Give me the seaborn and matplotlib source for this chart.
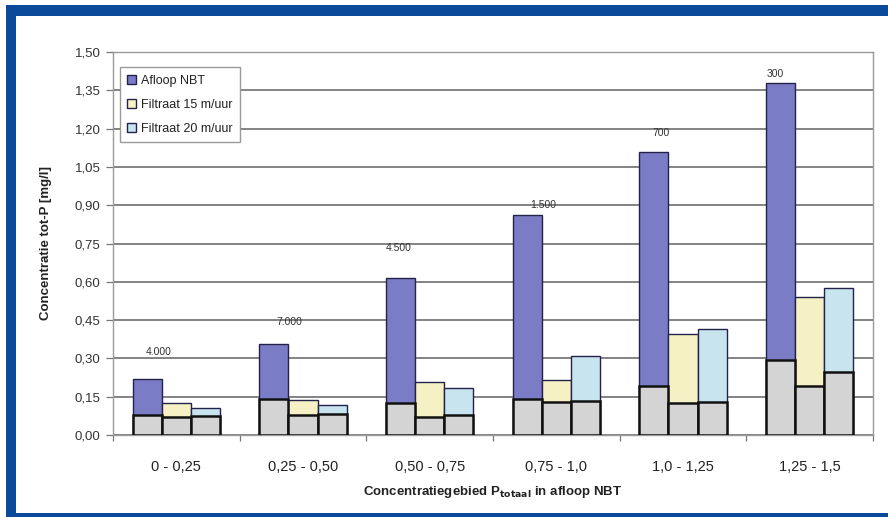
import matplotlib
matplotlib.use("Agg")
import matplotlib.pyplot as plt
from matplotlib.patches import Rectangle
from matplotlib.ticker import FixedLocator, FuncFormatter
import numpy as np
import pandas as pd
import seaborn as sns

# Concentratiegebieden (x-as)
categories = ['0 - 0,25', '0,25 - 0,50', '0,50 - 0,75', '0,75 - 1,0', '1,0 - 1,25', '1,25 - 1,5']
series = ['Afloop NBT', 'Filtraat 15 m/uur', 'Filtraat 20 m/uur']

# Totaal-P per reeks (hele staaf)
afloop_totaal = [0.22, 0.355, 0.615, 0.86, 1.11, 1.38]
filtraat15_totaal = [0.125, 0.137, 0.206, 0.215, 0.397, 0.542]
filtraat20_totaal = [0.107, 0.117, 0.183, 0.311, 0.414, 0.575]

# Opgelost deel (grijze onderkant van de staaf)
afloop_opgelost = [0.080, 0.140, 0.127, 0.142, 0.193, 0.293]
filtraat15_opgelost = [0.071, 0.080, 0.070, 0.129, 0.125, 0.193]
filtraat20_opgelost = [0.076, 0.083, 0.080, 0.133, 0.129, 0.246]

# Aantal metingen per concentratiegebied
n_metingen = ['4.000', '7.000', '4.500', '1.500', '700', '300']

y_ticks = [0.00, 0.15, 0.30, 0.45, 0.60, 0.75, 0.90, 1.05, 1.20, 1.35, 1.50]

rows = []
for s, tot, opg in zip(series,
                       [afloop_totaal, filtraat15_totaal, filtraat20_totaal],
                       [afloop_opgelost, filtraat15_opgelost, filtraat20_opgelost]):
    for c, t, o in zip(categories, tot, opg):
        rows.append({'gebied': c, 'reeks': s, 'totaal': t, 'opgelost': o})
df = pd.DataFrame(rows)

sns.set_theme(style="white")
plt.rcParams['font.family'] = ['Liberation Sans', 'DejaVu Sans']

fig = plt.figure(figsize=(8.88, 5.17), dpi=100)
ax = fig.add_axes([113 / 888, (517 - 435) / 517, (873 - 113) / 888, (435 - 52) / 517])

colors = ['#7B7CC6', '#F6F1C4', '#C8E4EF']
sns.barplot(data=df, x='gebied', y='totaal', hue='reeks', order=categories,
            hue_order=series, palette=colors, width=0.69, gap=0,
            edgecolor='#22224A', linewidth=1.0, saturation=1, ax=ax, zorder=3)
sns.barplot(data=df, x='gebied', y='opgelost', hue='reeks', order=categories,
            hue_order=series, palette=['#D4D4D4'] * 3, width=0.69, gap=0,
            edgecolor='#111111', linewidth=1.8, saturation=1, legend=False,
            ax=ax, zorder=4)

# Aantal metingen boven de staaf van de afloop
label_offsets = [(11, 27), (16, 22), (-2, 30), (16, 10), (7, 19), (-5, 9)]
afloop_bars = ax.containers[0]
for bar, txt, (dx, dy) in zip(afloop_bars, n_metingen, label_offsets):
    ax.annotate(txt, (bar.get_x() + bar.get_width() / 2, bar.get_height()),
                xytext=(dx, dy), textcoords='offset pixels',
                ha='center', va='center', fontsize=7.5, color='#333333')

ax.set_ylim(0, 1.5)
ax.set_xlim(-0.5, len(categories) - 0.5)
ax.yaxis.set_major_locator(FixedLocator(y_ticks))
ax.yaxis.set_major_formatter(FuncFormatter(lambda v, p: f"{v:.2f}".replace('.', ',')))
ax.grid(axis='y', color='#7A7A7A', linewidth=1.3, zorder=0)
ax.set_axisbelow(True)
for side in ['left', 'bottom', 'top', 'right']:
    ax.spines[side].set_visible(True)
    ax.spines[side].set_color('#9A9A9A')
    ax.spines[side].set_linewidth(1.0)

ax.tick_params(axis='y', which='major', left=True, length=5, width=0.9,
               color='#777777', labelsize=9.5, labelcolor='#333333', pad=4)
ax.tick_params(axis='x', which='major', bottom=False, labelsize=10.5,
               labelcolor='#222222', pad=12)
ax.xaxis.set_minor_locator(FixedLocator(np.arange(-0.5, len(categories), 1.0)))
ax.tick_params(axis='x', which='minor', bottom=True, length=4, width=0.9,
               color='#777777')

ax.set_ylabel('Concentratie tot-P [mg/l]', fontsize=9.5, fontweight='bold',
              color='#222222', labelpad=16)
ax.set_xlabel(r'Concentratiegebied P$_{\mathbf{totaal}}$ in afloop NBT', fontsize=9.5,
              fontweight='bold', color='#222222', labelpad=7)

sns.move_legend(ax, 'upper left', bbox_to_anchor=(0.009, 0.96), title=None,
                frameon=True, fancybox=False, fontsize=9, handlelength=0.7,
                handleheight=0.7, handletextpad=0.4, labelspacing=0.95,
                borderpad=0.6, borderaxespad=0, edgecolor='#9A9A9A', framealpha=1)
for t in ax.get_legend().get_texts():
    t.set_color('#222222')

# Blauwe kaderrand
blue = '#0B4A9B'
W, H = 888, 517
fig.patches.append(Rectangle((6 / W, 0), 10 / W, (H - 5) / H, transform=fig.transFigure,
                             facecolor=blue, edgecolor='none', zorder=10))
fig.patches.append(Rectangle((6 / W, (H - 16) / H), (W - 6) / W, 11 / H,
                             transform=fig.transFigure, facecolor=blue,
                             edgecolor='none', zorder=10))
fig.patches.append(Rectangle((6 / W, 0), (W - 6) / W, 4 / H, transform=fig.transFigure,
                             facecolor=blue, edgecolor='none', zorder=10))

fig.savefig('out.png', dpi=100)
